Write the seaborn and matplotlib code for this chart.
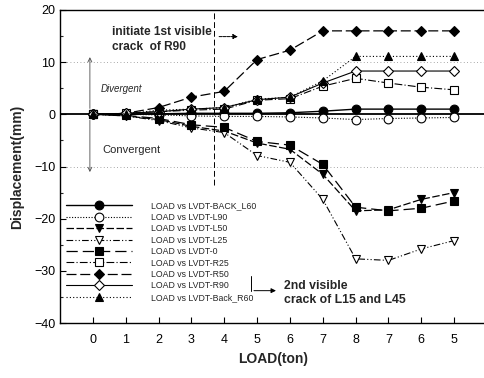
import matplotlib
matplotlib.use("Agg")
import matplotlib.pyplot as plt
import seaborn as sns
import numpy as np
import pandas as pd

# ---- data ----
load_labels = [0, 1, 2, 3, 4, 5, 6, 7, 8, 7, 6, 5]
positions = list(range(len(load_labels)))

back_l60 = [0, 0, 0.1, 0.2, 0.2, 0.2, 0.3, 0.6, 1.0, 1.0, 1.0, 1.0]
l90 = [0, 0, -0.1, -0.3, -0.4, -0.4, -0.5, -0.7, -1.0, -0.8, -0.7, -0.6]
l50 = [0, -0.3, -1.0, -2.3, -3.2, -5.5, -6.7, -11.5, -18.5, -18.3, -16.3, -15.0]
l25 = [0, -0.3, -1.2, -2.6, -3.5, -7.9, -9.2, -16.3, -27.7, -28.0, -25.8, -24.2]
lvdt0 = [0, -0.2, -0.8, -2.0, -2.5, -5.2, -5.9, -9.6, -17.8, -18.5, -18.0, -16.6]
r25 = [0, 0.2, 0.5, 0.8, 1.0, 2.7, 3.0, 5.4, 6.9, 6.0, 5.2, 4.7]
r50 = [0, 0.2, 1.3, 3.3, 4.4, 10.5, 12.3, 16.0, 16.0, 16.0, 16.0, 16.0]
r90 = [0, 0.2, 0.5, 1.0, 1.3, 2.8, 3.3, 6.0, 8.3, 8.3, 8.3, 8.3]
back_r60 = [0, 0.1, 0.8, 1.0, 1.3, 2.9, 3.3, 6.4, 11.1, 11.1, 11.1, 11.1]

series_names = [
    "LOAD vs LVDT-BACK_L60", "LOAD vs LVDT-L90", "LOAD vs LVDT-L50",
    "LOAD vs LVDT-L25", "LOAD vs LVDT-0", "LOAD vs LVDT-R25",
    "LOAD vs LVDT-R50", "LOAD vs LVDT-R90", "LOAD vs LVDT-Back_R60",
]
series_values = [back_l60, l90, l50, l25, lvdt0, r25, r50, r90, back_r60]

styles = [
    dict(marker="o", mfc="black", ls="-", lw=1.0),
    dict(marker="o", mfc="white", ls=(0, (1, 1.5)), lw=0.8),
    dict(marker="v", mfc="black", ls=(0, (6, 2)), lw=0.9),
    dict(marker="v", mfc="white", ls=(0, (6, 2, 1, 2, 1, 2)), lw=0.8),
    dict(marker="s", mfc="black", ls=(0, (9, 4)), lw=0.9),
    dict(marker="s", mfc="white", ls=(0, (7, 2, 1, 2)), lw=0.8),
    dict(marker="D", mfc="black", ls=(0, (8, 3)), lw=0.9),
    dict(marker="D", mfc="white", ls="-", lw=0.8),
    dict(marker="^", mfc="black", ls=(0, (1, 2)), lw=0.8),
]

sns.set_theme(style="ticks")
plt.rcParams["font.family"] = ["Liberation Sans", "DejaVu Sans"]

fig = plt.figure(figsize=(4.84, 3.78), dpi=100)
ax = fig.add_axes([60 / 484, 55 / 378, 427 / 484, 313 / 378])

for name, vals, st in zip(series_names, series_values, styles):
    ms = 5.5 if st["marker"] == "D" else 6.3
    df = pd.DataFrame({"pos": positions, "val": vals})
    sns.lineplot(data=df, x="pos", y="val", ax=ax, color="black",
                 marker=st["marker"], markersize=ms, markerfacecolor=st["mfc"],
                 markeredgecolor="black", markeredgewidth=0.8,
                 linestyle=st["ls"], linewidth=st["lw"], label=name)

ax.axhline(0, color="black", lw=1.3, zorder=0)
ax.axhline(10, color="0.55", lw=0.6, ls=(0, (1, 3)), zorder=0)
ax.axhline(-10, color="0.55", lw=0.6, ls=(0, (1, 3)), zorder=0)

ax.set_xlim(-1, 12)
ax.set_ylim(-40, 20)
ax.set_xticks(positions)
ax.set_xticklabels([str(v) for v in load_labels])
ax.set_yticks([-40, -30, -20, -10, 0, 10, 20])
ax.set_yticks([-35, -25, -15, -5, 5, 15], minor=True)
ax.tick_params(axis="both", which="major", direction="in", length=4, width=0.8,
               labelsize=9, colors="black")
ax.tick_params(axis="y", which="minor", direction="in", length=2.5, width=0.8)
ax.tick_params(axis="x", pad=8)
for s in ax.spines.values():
    s.set_color("black")
    s.set_linewidth(1.0)

ax.set_xlabel("LOAD(ton)", fontsize=10, fontweight="bold", labelpad=4)
ax.set_ylabel("Displacement(mm)", fontsize=10, fontweight="bold", labelpad=7)

# annotations
ax.vlines(3.7, -13.5, 20, colors="black", linestyles=(0, (6, 3)), lw=0.7)
ax.text(0.58, 14.4, "initiate 1st visible\ncrack  of R90", fontsize=8.6,
        fontweight="bold", va="center", ha="left", linespacing=1.3)
ax.annotate("", xy=(4.5, 14.9), xytext=(3.76, 14.9),
            arrowprops=dict(arrowstyle="-|>", lw=0.7, color="black",
                            mutation_scale=7, linestyle=(0, (3, 1))))
ax.text(0.24, 4.8, "Divergent", fontsize=7, style="italic", va="center")
ax.text(0.3, -6.9, "Convergent", fontsize=8, va="center")
ax.annotate("", xy=(-0.09, 11.5), xytext=(-0.09, 0.6),
            arrowprops=dict(arrowstyle="->", lw=0.6, color="0.3", mutation_scale=7))
ax.annotate("", xy=(-0.09, -11.6), xytext=(-0.09, -0.6),
            arrowprops=dict(arrowstyle="->", lw=0.6, color="0.3", mutation_scale=7))
ax.plot([4.82, 4.82], [-31.0, -33.8], color="black", lw=0.7)
ax.annotate("", xy=(5.66, -33.8), xytext=(4.82, -33.8),
            arrowprops=dict(arrowstyle="-|>", lw=0.7, color="black", mutation_scale=7))
ax.text(5.82, -34.2, "2nd visible\ncrack of L15 and L45", fontsize=8.8,
        fontweight="bold", va="center", ha="left", linespacing=1.25)

leg = ax.legend(loc="upper left", bbox_to_anchor=(0.005, 0.40), frameon=False,
                fontsize=6.3, handlelength=7.6, handletextpad=2.2,
                labelspacing=0.28, borderaxespad=0)

fig.savefig("out.png", dpi=100)
